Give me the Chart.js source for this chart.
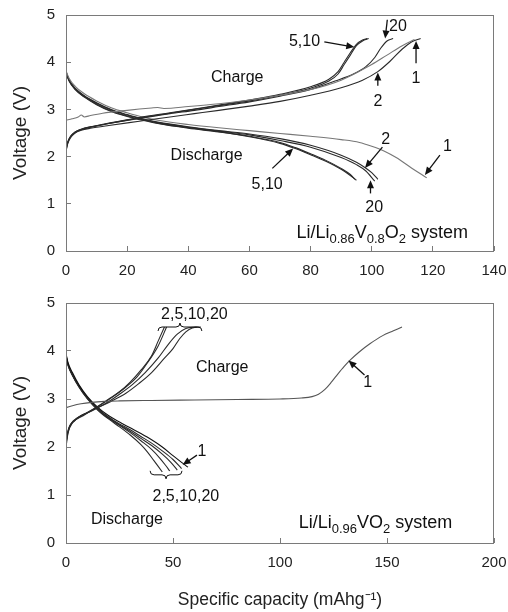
<!DOCTYPE html>
<html>
<head>
<meta charset="utf-8">
<script src="https://cdn.jsdelivr.net/npm/chart.js@4.4.0/dist/chart.umd.min.js"></script>
<style>
  body { margin: 0; background: #fff; }
  .box { position: absolute; left: 0; }
  #topBox { top: 0px; }
  #bottomBox { top: 290px; }
</style>
</head>
<body>
<div class="box" id="topBox"><canvas id="topChart" width="508" height="290"></canvas></div>
<div class="box" id="bottomBox"><canvas id="bottomChart" width="508" height="322"></canvas></div>
<script>
// ---- Li/Li0.86V0.8O2 (top panel) ----
const capCharge1A = [0, 2, 4, 5, 6, 8, 12, 20, 28, 30, 32, 40, 50, 60, 70, 80, 90, 100, 105, 110, 114];
const voltCharge1A = [2.77, 2.8, 2.84, 2.88, 2.84, 2.87, 2.92, 2.98, 3.03, 3.04, 3.02, 3.06, 3.12, 3.2, 3.3, 3.42, 3.62, 3.95, 4.15, 4.35, 4.48];
const capCharge2A = [0, 0.5, 1.5, 3, 5, 8, 14, 24, 34, 42, 50, 60, 70, 80, 90, 97, 102, 106, 110, 113, 116];
const voltCharge2A = [2.18, 2.3, 2.43, 2.51, 2.56, 2.6, 2.66, 2.75, 2.84, 2.91, 2.98, 3.07, 3.17, 3.3, 3.46, 3.62, 3.8, 4.02, 4.28, 4.43, 4.5];
const capCharge5A = [0, 0.5, 1.5, 3, 5, 8, 14, 24, 34, 42, 50, 60, 70, 80, 86, 89, 91, 93, 95, 97, 99];
const voltCharge5A = [2.1, 2.26, 2.4, 2.5, 2.57, 2.62, 2.7, 2.82, 2.92, 3.0, 3.08, 3.18, 3.3, 3.45, 3.6, 3.75, 3.95, 4.15, 4.35, 4.45, 4.5];
const capCharge10A = [0, 0.5, 1.5, 3, 5, 8, 14, 24, 34, 42, 50, 60, 70, 80, 86, 89, 91, 93, 95, 97, 98.5];
const voltCharge10A = [2.14, 2.29, 2.43, 2.52, 2.58, 2.63, 2.71, 2.83, 2.93, 3.01, 3.09, 3.2, 3.32, 3.48, 3.64, 3.8, 4.0, 4.2, 4.38, 4.47, 4.5];
const capCharge20A = [0, 0.5, 1.5, 3, 5, 8, 14, 24, 34, 42, 50, 60, 70, 80, 88, 94, 98, 101, 103, 105, 107];
const voltCharge20A = [2.12, 2.28, 2.42, 2.52, 2.58, 2.63, 2.7, 2.81, 2.91, 2.98, 3.06, 3.16, 3.28, 3.42, 3.6, 3.75, 3.9, 4.1, 4.3, 4.45, 4.5];

const capDis1A = [0, 1, 3, 6, 10, 15, 20, 25, 30, 40, 50, 60, 70, 80, 90, 96, 100, 104, 108, 113, 118];
const voltDis1A = [3.82, 3.66, 3.49, 3.33, 3.18, 3.03, 2.93, 2.84, 2.77, 2.68, 2.61, 2.55, 2.49, 2.43, 2.36, 2.3, 2.22, 2.12, 1.98, 1.76, 1.55];
const capDis2A = [0, 1, 3, 6, 10, 15, 20, 25, 30, 40, 50, 60, 70, 80, 90, 95, 98, 100, 102];
const voltDis2A = [3.8, 3.63, 3.45, 3.29, 3.14, 2.99, 2.89, 2.8, 2.73, 2.63, 2.55, 2.48, 2.38, 2.24, 2.03, 1.88, 1.76, 1.66, 1.52];
const capDis5A = [0, 1, 3, 6, 10, 15, 20, 25, 30, 40, 50, 60, 70, 75, 80, 85, 90, 93, 95];
const voltDis5A = [3.78, 3.6, 3.42, 3.26, 3.1, 2.95, 2.85, 2.77, 2.7, 2.6, 2.52, 2.42, 2.28, 2.17, 2.04, 1.9, 1.73, 1.6, 1.5];
const capDis10A = [0, 1, 3, 6, 10, 15, 20, 25, 30, 40, 50, 60, 70, 75, 80, 85, 90, 93, 94.5];
const voltDis10A = [3.79, 3.61, 3.43, 3.27, 3.11, 2.96, 2.86, 2.78, 2.71, 2.61, 2.53, 2.43, 2.3, 2.19, 2.06, 1.92, 1.75, 1.62, 1.52];
const capDis20A = [0, 1, 3, 6, 10, 15, 20, 25, 30, 40, 50, 60, 70, 80, 90, 95, 98, 101];
const voltDis20A = [3.8, 3.62, 3.44, 3.28, 3.13, 2.98, 2.88, 2.79, 2.72, 2.62, 2.54, 2.46, 2.34, 2.2, 1.98, 1.83, 1.7, 1.48];

// ---- Li/Li0.96VO2 (bottom panel) ----
const capCharge1B = [0, 3, 7, 12, 18, 25, 40, 60, 80, 100, 110, 115, 118, 121, 124, 127, 130, 133, 137, 142, 148, 153, 157];
const voltCharge1B = [2.82, 2.86, 2.9, 2.93, 2.95, 2.96, 2.97, 2.98, 2.99, 3.0, 3.02, 3.05, 3.1, 3.2, 3.35, 3.52, 3.68, 3.82, 3.98, 4.15, 4.32, 4.42, 4.5];
const capCharge2B = [0, 2, 6, 14, 21, 28, 34, 40, 46, 50, 53, 56, 59, 63];
const voltCharge2B = [2.2, 2.45, 2.62, 2.8, 2.95, 3.12, 3.32, 3.55, 3.85, 4.05, 4.25, 4.4, 4.48, 4.5];
const capCharge5B = [0, 1.5, 5, 12, 19, 25, 31, 37, 43, 48, 52, 56, 61];
const voltCharge5B = [2.1, 2.4, 2.6, 2.75, 2.92, 3.1, 3.3, 3.55, 3.85, 4.15, 4.35, 4.47, 4.5];
const capCharge10B = [0, 1, 4, 10, 17, 22, 28, 33, 38, 43, 47];
const voltCharge10B = [2.05, 2.35, 2.55, 2.72, 2.9, 3.05, 3.25, 3.45, 3.75, 4.1, 4.5];
const capCharge20B = [0, 1, 3, 8, 15, 20, 25, 30, 35, 40, 43, 46];
const voltCharge20B = [2.0, 2.3, 2.5, 2.65, 2.85, 3.0, 3.15, 3.35, 3.6, 3.9, 4.2, 4.5];

const capDis1B = [0, 1, 3, 6, 10, 15, 20, 25, 30, 35, 40, 45, 50, 54, 57];
const voltDis1B = [3.95, 3.75, 3.55, 3.3, 3.05, 2.82, 2.65, 2.52, 2.4, 2.28, 2.15, 2.0, 1.82, 1.68, 1.58];
const capDis2B = [0, 1, 3, 6, 10, 15, 20, 25, 30, 35, 40, 45, 50, 54];
const voltDis2B = [3.92, 3.72, 3.52, 3.28, 3.03, 2.8, 2.62, 2.48, 2.36, 2.22, 2.08, 1.92, 1.74, 1.55];
const capDis5B = [0, 1, 3, 6, 10, 15, 20, 25, 30, 35, 40, 45, 49, 52];
const voltDis5B = [3.9, 3.7, 3.5, 3.27, 3.02, 2.79, 2.61, 2.46, 2.33, 2.18, 2.03, 1.85, 1.68, 1.52];
const capDis10B = [0, 1, 3, 6, 10, 15, 20, 25, 30, 35, 40, 44, 46.5, 48.5];
const voltDis10B = [3.9, 3.71, 3.5, 3.26, 3.01, 2.78, 2.6, 2.45, 2.3, 2.13, 1.95, 1.76, 1.62, 1.5];
const capDis20B = [0, 1, 3, 6, 10, 15, 20, 25, 30, 35, 38, 41, 43, 45];
const voltDis20B = [3.88, 3.69, 3.49, 3.25, 3.0, 2.76, 2.58, 2.42, 2.25, 2.05, 1.9, 1.72, 1.6, 1.48];

// axis ranges / ticks
const topXTicks = [0, 20, 40, 60, 80, 100, 120, 140];
const bottomXTicks = [0, 50, 100, 150, 200];
const voltTicks = [0, 1, 2, 3, 4, 5];

// labels placed in data units
const topNotes = [
  { text: 'Charge', x: 56, y: 3.67 },
  { text: 'Discharge', x: 46, y: 2.03 },
  { text: '5,10', x: 78, y: 4.43, arrow: [84.5, 4.43, 94.3, 4.32] },
  { text: '20', x: 108.6, y: 4.75, arrow: [105.1, 4.9, 104.4, 4.5] },
  { text: '1', x: 114.5, y: 3.66, arrow: [114.5, 3.98, 114.5, 4.45] },
  { text: '2', x: 102, y: 3.16, arrow: [102, 3.5, 102, 3.78] },
  { text: '2', x: 104.6, y: 2.36, arrow: [103.5, 2.2, 97.8, 1.76] },
  { text: '1', x: 124.8, y: 2.22, arrow: [122.3, 2.03, 117.4, 1.61] },
  { text: '5,10', x: 65.8, y: 1.4, arrow: [67.5, 1.75, 74.3, 2.17] },
  { text: '20', x: 100.8, y: 0.91, arrow: [99.6, 1.22, 99.6, 1.5] }
];
const topSystem = { parts: [['Li/Li', 0], ['0.86', 1], ['V', 0], ['0.8', 1], ['O', 0], ['2', 1], [' system', 0]], x: 131.5, y: 0.4 };

const bottomNotes = [
  { text: '2,5,10,20', x: 60, y: 4.75, brace: [43, 63.5, 4.5, 1] },
  { text: 'Charge', x: 73, y: 3.65 },
  { text: '1', x: 141, y: 3.35, arrow: [139.5, 3.5, 132, 3.8] },
  { text: '1', x: 63.5, y: 1.9, arrow: [61.2, 1.83, 54.5, 1.63] },
  { text: '2,5,10,20', x: 56, y: 0.96, brace: [39.3, 54.2, 1.42, -1] },
  { text: 'Discharge', x: 28.5, y: 0.48 }
];
const bottomSystem = { parts: [['Li/Li', 0], ['0.96', 1], ['VO', 0], ['2', 1], [' system', 0]], x: 180.5, y: 0.44 };

Chart.defaults.font.family = '"Liberation Sans", Arial, sans-serif';
Chart.defaults.color = '#222';

function pts(cap, volt) {
  return cap.map((c, i) => ({ x: c, y: volt[i] }));
}
function curve(cap, volt, color) {
  return {
    data: pts(cap, volt),
    showLine: true,
    borderColor: color || '#2a2a2a',
    borderWidth: 1.1,
    pointRadius: 0,
    cubicInterpolationMode: 'monotone'
  };
}

function arrow(ctx, x1, y1, x2, y2) {
  const a = Math.atan2(y2 - y1, x2 - x1);
  ctx.beginPath();
  ctx.moveTo(x1, y1);
  ctx.lineTo(x2 - 6 * Math.cos(a), y2 - 6 * Math.sin(a));
  ctx.stroke();
  ctx.beginPath();
  ctx.moveTo(x2, y2);
  ctx.lineTo(x2 - 8 * Math.cos(a) + 3.5 * Math.sin(a), y2 - 8 * Math.sin(a) - 3.5 * Math.cos(a));
  ctx.lineTo(x2 - 8 * Math.cos(a) - 3.5 * Math.sin(a), y2 - 8 * Math.sin(a) + 3.5 * Math.cos(a));
  ctx.closePath();
  ctx.fill();
}

function brace(ctx, xa, xb, yb, d) {
  const xm = (xa + xb) / 2;
  const k = Math.abs(d);
  ctx.beginPath();
  ctx.moveTo(xa, yb + d);
  ctx.quadraticCurveTo(xa, yb, xa + k, yb);
  ctx.lineTo(xm - k, yb);
  ctx.quadraticCurveTo(xm, yb, xm, yb - d);
  ctx.quadraticCurveTo(xm, yb, xm + k, yb);
  ctx.lineTo(xb - k, yb);
  ctx.quadraticCurveTo(xb, yb, xb, yb + d);
  ctx.stroke();
}

function notesPlugin(notes, system) {
  return {
    id: 'notes',
    afterDatasetsDraw(chart) {
      const { ctx, chartArea: ca, scales: { x, y } } = chart;
      ctx.save();
      // frame around plot area
      ctx.strokeStyle = '#7a7a7a';
      ctx.lineWidth = 1;
      ctx.strokeRect(Math.round(ca.left) + 0.5, Math.round(ca.top) + 0.5, Math.round(ca.right - ca.left) - 1, Math.round(ca.bottom - ca.top));

      ctx.fillStyle = '#111';
      ctx.strokeStyle = '#111';
      ctx.lineWidth = 1.3;
      ctx.font = '16px "Liberation Sans", Arial, sans-serif';
      ctx.textAlign = 'center';
      ctx.textBaseline = 'middle';
      notes.forEach(n => {
        ctx.fillText(n.text, x.getPixelForValue(n.x), y.getPixelForValue(n.y));
        if (n.arrow) {
          const [a, b, c, d] = n.arrow;
          arrow(ctx, x.getPixelForValue(a), y.getPixelForValue(b), x.getPixelForValue(c), y.getPixelForValue(d));
        }
        if (n.brace) {
          const [a, b, c, dir] = n.brace;
          ctx.lineWidth = 1;
          brace(ctx, x.getPixelForValue(a), x.getPixelForValue(b), y.getPixelForValue(c), 4 * dir);
          ctx.lineWidth = 1.3;
        }
      });

      // system label with subscripts, right aligned
      const big = '18px "Liberation Sans", Arial, sans-serif';
      const small = '13px "Liberation Sans", Arial, sans-serif';
      ctx.textAlign = 'left';
      ctx.textBaseline = 'alphabetic';
      let total = 0;
      system.parts.forEach(p => { ctx.font = p[1] ? small : big; total += ctx.measureText(p[0]).width; });
      let px = x.getPixelForValue(system.x) - total;
      const base = y.getPixelForValue(system.y) + 6;
      system.parts.forEach(p => {
        ctx.font = p[1] ? small : big;
        ctx.fillText(p[0], px, base + (p[1] ? 5 : 0));
        px += ctx.measureText(p[0]).width;
      });
      ctx.restore();
    }
  };
}

function makeOptions(xMax, xTicks, xHeight, padTop, xTitle) {
  return {
    responsive: false,
    animation: false,
    layout: { padding: { top: padTop, right: 14, left: 0, bottom: 0 } },
    plugins: { legend: { display: false }, tooltip: { enabled: false } },
    scales: {
      x: {
        type: 'linear',
        min: 0, max: xMax,
        border: { display: false },
        grid: { drawOnChartArea: false, tickLength: -5, color: '#7a7a7a' },
        afterBuildTicks: s => { s.ticks = xTicks.map(v => ({ value: v })); },
        afterFit: s => { s.height = xHeight; s.paddingLeft = 0; s.paddingRight = 0; },
        ticks: { padding: 16, font: { size: 15 }, color: '#222', maxRotation: 0 },
        title: xTitle ? { display: true, text: xTitle, font: { size: 17.5 }, color: '#222', padding: { top: 0, bottom: 1 } } : { display: false }
      },
      y: {
        min: 0, max: 5,
        border: { display: false },
        grid: { drawOnChartArea: false, tickLength: -5, color: '#7a7a7a' },
        afterBuildTicks: s => { s.ticks = voltTicks.map(v => ({ value: v })); },
        afterFit: s => { s.width = 66; s.paddingTop = 0; s.paddingBottom = 0; },
        ticks: { padding: 16, font: { size: 15 }, color: '#222' },
        title: { display: true, text: 'Voltage (V)', font: { size: 19 }, color: '#222', padding: { top: 9, bottom: 0 } }
      }
    }
  };
}

new Chart(document.getElementById('topChart'), {
  type: 'scatter',
  data: {
    datasets: [
      curve(capCharge1A, voltCharge1A, '#777'),
      curve(capCharge2A, voltCharge2A),
      curve(capCharge5A, voltCharge5A),
      curve(capCharge10A, voltCharge10A),
      curve(capCharge20A, voltCharge20A),
      curve(capDis1A, voltDis1A, '#777'),
      curve(capDis2A, voltDis2A),
      curve(capDis5A, voltDis5A),
      curve(capDis10A, voltDis10A),
      curve(capDis20A, voltDis20A)
    ]
  },
  options: makeOptions(140, topXTicks, 39, 15, null),
  plugins: [notesPlugin(topNotes, topSystem)]
});

new Chart(document.getElementById('bottomChart'), {
  type: 'scatter',
  data: {
    datasets: [
      curve(capCharge1B, voltCharge1B, '#555'),
      curve(capCharge2B, voltCharge2B),
      curve(capCharge5B, voltCharge5B),
      curve(capCharge10B, voltCharge10B),
      curve(capCharge20B, voltCharge20B),
      curve(capDis1B, voltDis1B, '#111'),
      curve(capDis2B, voltDis2B),
      curve(capDis5B, voltDis5B),
      curve(capDis10B, voltDis10B),
      curve(capDis20B, voltDis20B)
    ]
  },
  options: makeOptions(200, bottomXTicks, 69, 13, 'Specific capacity (mAhg\u207B\u00B9)'),
  plugins: [notesPlugin(bottomNotes, bottomSystem)]
});
</script>
</body>
</html>
